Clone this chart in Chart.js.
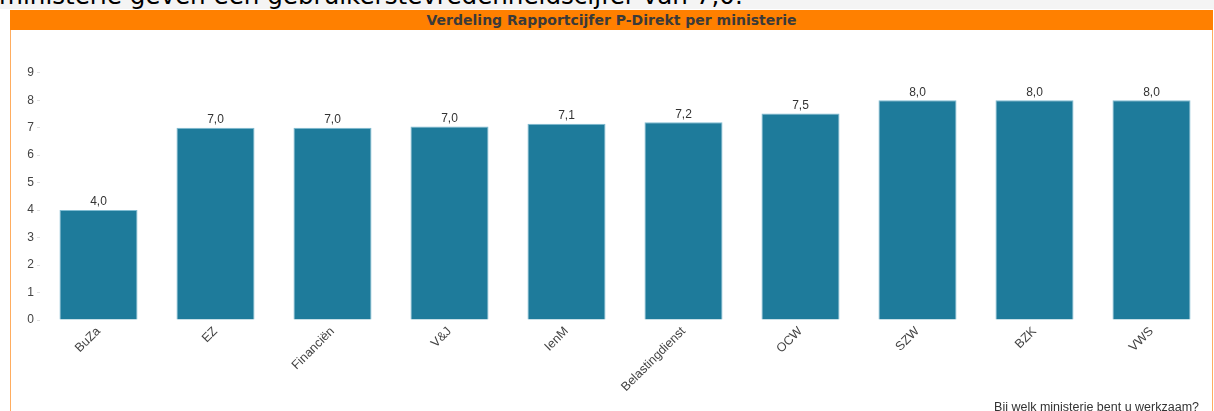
<!DOCTYPE html>
<html>
<head>
<meta charset="utf-8">
<script src="https://cdn.jsdelivr.net/npm/chart.js@4"></script>
<style>
  html, body { margin: 0; padding: 0; background: #fff; overflow: hidden; }
  body { width: 1214px; height: 411px; position: relative; }
  #topband { position: absolute; left: 0; top: 0; width: 1214px; height: 9px; background: #f4f4f4; }
  #intro { position: absolute; left: -1px; top: -19px; font-family: "DejaVu Sans", Verdana, sans-serif;
           font-size: 24.6px; color: #000; white-space: nowrap; }
  #panel { position: absolute; left: 10px; top: 10px; width: 1203px; height: 420px;
           border-left: 1px solid #ffad60; border-right: 1px solid #ffad60; box-sizing: border-box; }
  #header { position: absolute; left: 10px; top: 10px; width: 1203px; height: 20px; background: #ff8000;
            font-family: "DejaVu Sans", Verdana, sans-serif; font-weight: bold; font-size: 14px;
            color: #3a3a3a; text-align: center; line-height: 20px; }
  #sessionChart { position: absolute; left: 0; top: 0; }
</style>
</head>
<body>
<div id="topband"></div>
<div id="intro">ministerie geven een gebruikerstevredenheidscijfer van 7,0.</div>
<div id="panel"></div>
<div id="header">Verdeling Rapportcijfer P-Direkt per ministerie</div>
<canvas id="sessionChart" width="1214" height="411"></canvas>
<script>
const ministries = ['BuZa', 'EZ', 'Financiën', 'V&J', 'IenM', 'Belastingdienst', 'OCW', 'SZW', 'BZK', 'VWS'];
const scores = [4.0, 7.0, 7.0, 7.04, 7.14, 7.2, 7.52, 8.0, 8.0, 8.0];
const yTicks = [0, 1, 2, 3, 4, 5, 6, 7, 8, 9];
const axisTitle = 'Bij welk ministerie bent u werkzaam?';

const ctx = document.getElementById('sessionChart').getContext('2d');
const labelFont = '"Liberation Sans", Arial, sans-serif';

// write the score above each bar (comma decimals) and the axis question bottom right
const valueLabels = {
    id: 'valueLabels',
    afterDatasetsDraw(chart) {
        const c = chart.ctx;
        const meta = chart.getDatasetMeta(0);
        c.save();
        c.font = '12px ' + labelFont;
        c.fillStyle = '#333';
        c.textAlign = 'center';
        c.textBaseline = 'bottom';
        meta.data.forEach((bar, i) => {
            c.fillText(scores[i].toFixed(1).replace('.', ','), bar.x, bar.y - 2);
        });
        c.font = '12.5px ' + labelFont;
        c.textAlign = 'right';
        c.textBaseline = 'alphabetic';
        c.fillText(axisTitle, chart.chartArea.right - 11, 411);
        c.restore();
    }
};

const config = {
    type: 'bar',
    data: {
        labels: ministries,
        datasets: [{
            label: 'Rapportcijfer',
            data: scores,
            backgroundColor: '#1e7b9b',
            borderColor: '#7fbcd2',
            borderWidth: 1,
            categoryPercentage: 1,
            barPercentage: 0.667
        }]
    },
    options: {
        responsive: false,
        animation: false,
        layout: {
            padding: { left: 10, right: 4, top: 59, bottom: 0 }
        },
        scales: {
            x: {
                grid: { display: false },
                border: { display: false },
                afterFit: function(scale) { scale.height = 91; },
                ticks: {
                    minRotation: 45,
                    maxRotation: 45,
                    padding: -4,
                    color: '#444',
                    font: { family: labelFont, size: 12.5 }
                }
            },
            y: {
                min: 0,
                max: 9.5,
                afterFit: function(scale) { scale.width = 30; },
                afterBuildTicks: function(scale) {
                    scale.ticks = yTicks.map(v => ({ value: v }));
                },
                grid: { drawOnChartArea: false, drawTicks: true, tickLength: 3, color: '#e0e0e0' },
                border: { display: false },
                ticks: {
                    padding: 3,
                    color: '#444',
                    font: { family: labelFont, size: 12 }
                }
            }
        },
        plugins: {
            legend: { display: false },
            tooltip: { enabled: false }
        }
    },
    plugins: [valueLabels]
};

const myChart = new Chart(ctx, config);
</script>
</body>
</html>
